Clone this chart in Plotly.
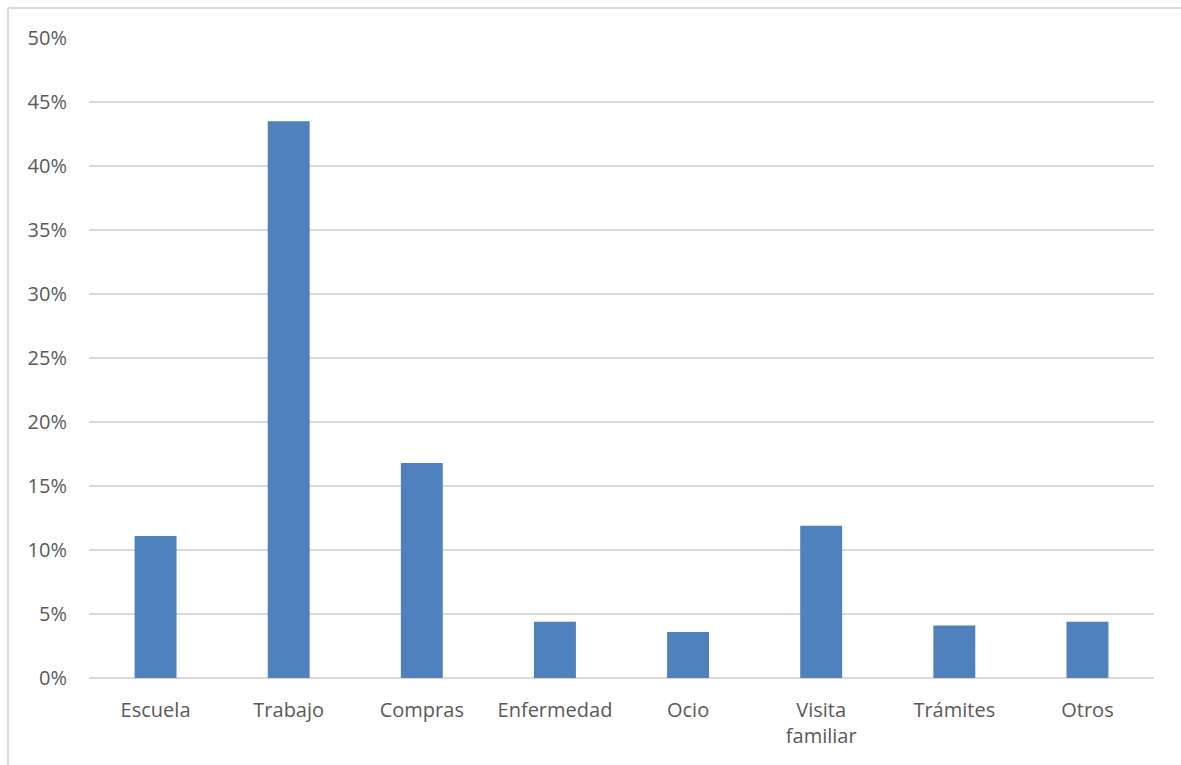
import plotly.graph_objects as go

categorias = ["Escuela", "Trabajo", "Compras", "Enfermedad", "Ocio",
              "Visita<br>familiar", "Trámites", "Otros"]
porcentajes = [0.111, 0.435, 0.168, 0.044, 0.036, 0.119, 0.041, 0.044]
ticks_y = [0, 0.05, 0.10, 0.15, 0.20, 0.25, 0.30, 0.35, 0.40, 0.45, 0.50]
etiquetas_y = ["0%", "5%", "10%", "15%", "20%", "25%", "30%", "35%", "40%", "45%", "50%"]

fig = go.Figure(go.Bar(
    x=categorias,
    y=porcentajes,
    marker=dict(color="#4f81bd", line=dict(width=0)),
))

fig.update_layout(
    width=1181, height=765,
    margin=dict(l=89, r=27, t=38, b=87),
    paper_bgcolor="white",
    plot_bgcolor="white",
    bargap=0.685,
    showlegend=False,
    font=dict(family="Open Sans, Liberation Sans, sans-serif", size=20, color="#595959"),
    xaxis=dict(
        showgrid=False, showline=False, zeroline=False,
        ticks="", ticklabelstandoff=18,
        tickfont=dict(size=20, color="#595959"),
    ),
    yaxis=dict(
        range=[0, 0.5],
        tickvals=ticks_y, ticktext=etiquetas_y,
        showgrid=True, gridcolor="#d9d9d9", gridwidth=1.5,
        zeroline=True, zerolinecolor="#d9d9d9", zerolinewidth=1.5,
        showline=False, ticks="", ticklabelstandoff=21,
        tickfont=dict(size=20, color="#595959"),
    ),
    shapes=[
        dict(type="line", xref="paper", yref="paper",
             x0=-0.076, x1=1.1, y0=1.047, y1=1.047,
             line=dict(color="#d9d9d9", width=2)),
        dict(type="line", xref="paper", yref="paper",
             x0=-0.076, x1=-0.076, y0=1.047, y1=-0.2,
             line=dict(color="#d9d9d9", width=2)),
    ],
)

fig.write_html("out.html")
